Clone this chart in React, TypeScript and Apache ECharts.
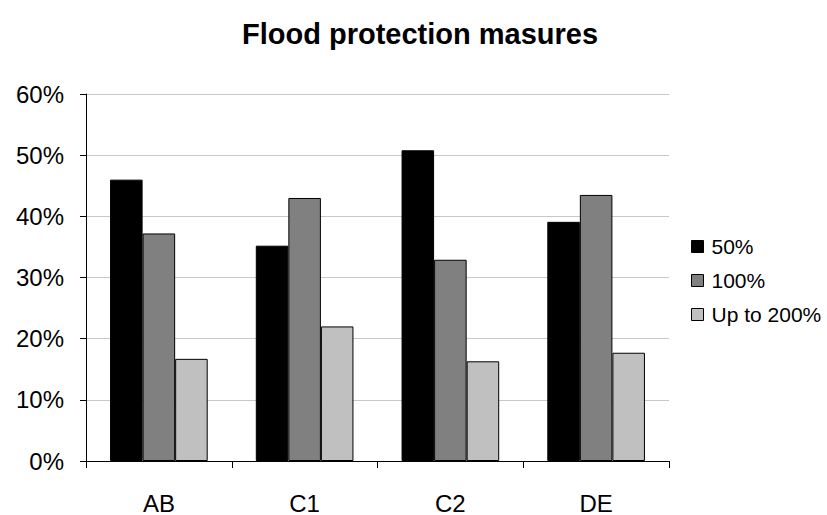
import React, { useEffect, useRef } from "react";
import * as echarts from "echarts";

const categories = ["AB", "C1", "C2", "DE"];
const seriesNames = ["50%", "100%", "Up to 200%"];
const values50 = [46.0, 35.2, 50.8, 39.1];
const values100 = [37.2, 43.0, 32.9, 43.5];
const valuesUpTo200 = [16.7, 22.0, 16.3, 17.7];
const yTicks = { min: 0, max: 60, interval: 10 };

const FONT = "Arial, 'Liberation Sans', sans-serif";
const fills = ["#000000", "#808080", "#c0c0c0"];

export default function App() {
  const ref = useRef<HTMLDivElement>(null);

  useEffect(() => {
    if (!ref.current) return;
    const chart = echarts.init(ref.current, undefined, { renderer: "svg" });
    const data = [values50, values100, valuesUpTo200];

    chart.setOption({
      animation: false,
      backgroundColor: "#ffffff",
      title: {
        text: "Flood protection masures",
        left: 415,
        textAlign: "center",
        top: 14,
        textStyle: { fontFamily: FONT, fontWeight: "bold", fontSize: 29, color: "#000" },
      },
      legend: {
        orient: "vertical",
        left: 686,
        top: 231,
        itemWidth: 12,
        itemHeight: 12,
        itemGap: 13,
        icon: "rect",
        itemStyle: { borderColor: "#000", borderWidth: 1 },
        textStyle: { fontFamily: FONT, fontSize: 21, color: "#000", padding: [0, 0, 0, 3], lineHeight: 21 },
        data: seriesNames,
      },
      grid: { left: 86, right: 158, top: 94, bottom: 54, containLabel: false },
      xAxis: {
        type: "category",
        data: categories,
        axisLine: { lineStyle: { color: "#000", width: 1 } },
        axisTick: { show: true, length: 7, inside: false, alignWithLabel: false, lineStyle: { color: "#000" } },
        axisLabel: { fontFamily: FONT, fontSize: 24, color: "#000", margin: 30 },
        splitLine: { show: false },
      },
      yAxis: {
        type: "value",
        min: yTicks.min,
        max: yTicks.max,
        interval: yTicks.interval,
        axisLine: { show: true, lineStyle: { color: "#000", width: 1 } },
        axisTick: { show: true, length: 6, lineStyle: { color: "#000" } },
        axisLabel: { fontFamily: FONT, fontSize: 24, color: "#000", margin: 22, formatter: "{value}%" },
        splitLine: { show: true, lineStyle: { color: "#c8c8c8", width: 1 } },
      },
      series: seriesNames.map((name, i) => ({
        name,
        type: "bar",
        data: data[i],
        barGap: "0%",
        barCategoryGap: "33%",
        itemStyle: { color: fills[i], borderColor: "#000", borderWidth: 1 },
      })),
    });

    return () => chart.dispose();
  }, []);

  return (
    <div
      ref={ref}
      style={{ position: "fixed", left: 0, top: 0, width: 827, height: 515 }}
    />
  );
}
